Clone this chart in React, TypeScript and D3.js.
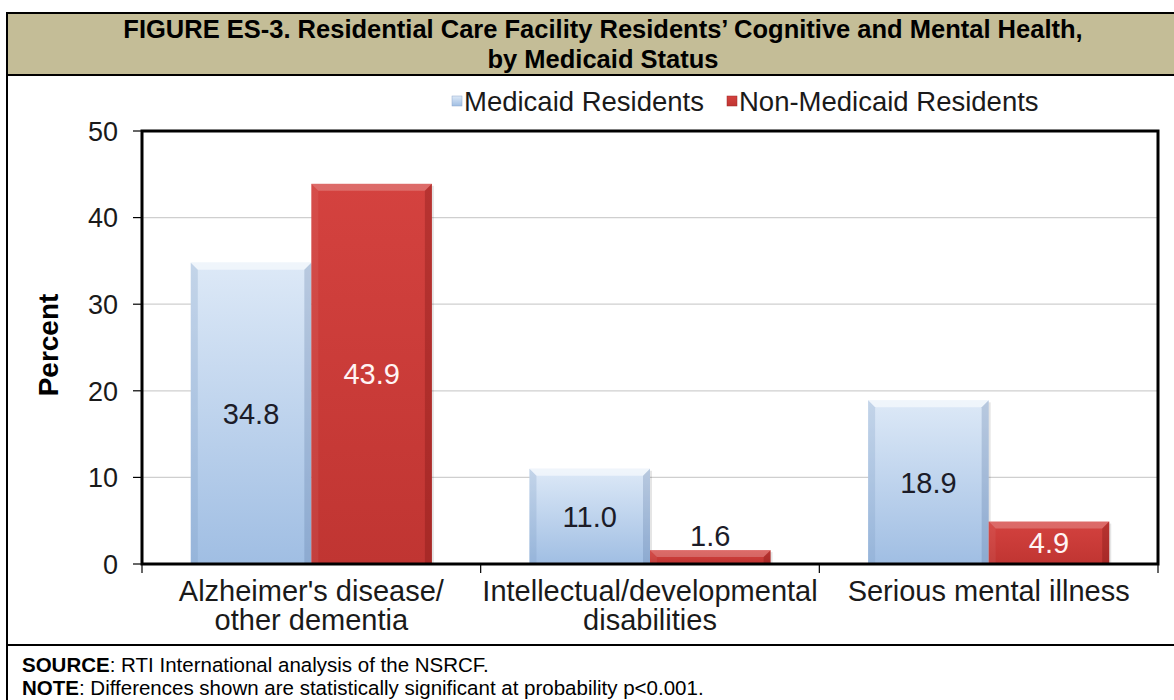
import React from "react";
import * as d3 from "d3";

const categories: string[][] = [
  ["Alzheimer's disease/", "other dementia"],
  ["Intellectual/developmental", "disabilities"],
  ["Serious mental illness"],
];
const seriesNames = ["Medicaid Residents", "Non-Medicaid Residents"];
const medicaid = [34.8, 11.0, 18.9];
const nonMedicaid = [43.9, 1.6, 4.9];
const yTicks = [0, 10, 20, 30, 40, 50];

const W = 1174;
const H = 700;
const FONT = "'Liberation Sans', Arial, sans-serif";

export default function App() {
  const plot = { left: 142, right: 1158, top: 131, bottom: 564 };
  const x0 = d3
    .scaleBand<number>()
    .domain(d3.range(categories.length))
    .range([plot.left, plot.right])
    .paddingInner(0)
    .paddingOuter(0);
  const bw = x0.bandwidth();
  const barW = bw * 0.356;
  const y = d3.scaleLinear().domain([0, 50]).range([plot.bottom, plot.top]);

  const series = [medicaid, nonMedicaid];
  const bevel = 7;

  const bars: React.ReactNode[] = [];
  const labels: React.ReactNode[] = [];
  categories.forEach((_, i) => {
    const cx = x0(i)! + bw / 2;
    series.forEach((vals, s) => {
      const v = vals[i];
      const bx = cx - barW + s * barW;
      const by = y(v);
      const bh = y(0) - by;
      const isBlue = s === 0;
      const b = Math.min(bevel, bh / 2);
      const x1 = bx, x2 = bx + barW, y1 = by, y2 = by + bh;
      bars.push(
        <g key={`b${i}-${s}`}>
          <rect x={x1 + 2} y={y1 + 2} width={barW} height={bh - 2} fill="rgba(0,0,0,0.10)" />
          <rect x={x1} y={y1} width={barW} height={bh} fill={`url(#${isBlue ? "gBlue" : "gRed"})`} />
          <polygon points={`${x1},${y1} ${x2},${y1} ${x2 - b},${y1 + b} ${x1 + b},${y1 + b}`} fill={isBlue ? "rgba(255,255,255,0.55)" : "rgba(255,255,255,0.22)"} />
          <polygon points={`${x1},${y1} ${x1 + b},${y1 + b} ${x1 + b},${y2} ${x1},${y2}`} fill={isBlue ? "rgba(120,150,190,0.25)" : "rgba(255,255,255,0.06)"} />
          <polygon points={`${x2},${y1} ${x2 - b},${y1 + b} ${x2 - b},${y2} ${x2},${y2}`} fill={isBlue ? "rgba(90,120,160,0.28)" : "rgba(80,0,0,0.22)"} />
        </g>
      );
      const above = bh < 30;
      const ly = above ? by - 15 : by + bh / 2;
      labels.push(
        <text
          key={`l${i}-${s}`}
          x={bx + barW / 2}
          y={ly}
          dy="0.36em"
          textAnchor="middle"
          fontFamily={FONT}
          fontSize={29}
          fill={isBlue || above ? "#1c1c28" : "#fff4f4"}
        >
          {v.toFixed(1)}
        </text>
      );
    });
  });

  return (
    <svg width={W} height={H} style={{ position: "absolute", left: 0, top: 0, background: "#fff" }}>
      <defs>
        <linearGradient id="gBlue" x1="0" y1="0" x2="0" y2="1">
          <stop offset="0" stopColor="#dde9f7" />
          <stop offset="1" stopColor="#a0bee3" />
        </linearGradient>
        <linearGradient id="gRed" x1="0" y1="0" x2="0" y2="1">
          <stop offset="0" stopColor="#d4423f" />
          <stop offset="1" stopColor="#c03532" />
        </linearGradient>
      </defs>
      <rect x={0} y={0} width={W} height={H} fill="#fff" />
      {/* Title band */}
      <rect x={7} y={13} width={W - 7} height={62} fill="#c4bd97" />
      <line x1={6} x2={W} y1={13} y2={13} stroke="#000" strokeWidth={2} />
      <line x1={6} x2={W} y1={75} y2={75} stroke="#000" strokeWidth={2} />
      <line x1={7} x2={7} y1={12} y2={H} stroke="#000" strokeWidth={2} />
      <line x1={6} x2={W} y1={645} y2={645} stroke="#000" strokeWidth={2} />
      <text x={603} y={38} textAnchor="middle" fontFamily={FONT} fontWeight="bold" fontSize={25.5} fill="#000">
        FIGURE ES-3. Residential Care Facility Residents’ Cognitive and Mental Health,
      </text>
      <text x={603} y={68} textAnchor="middle" fontFamily={FONT} fontWeight="bold" fontSize={25.5} fill="#000">
        by Medicaid Status
      </text>

      {/* Legend */}
      <rect x={452} y={96} width={10} height={10} fill="url(#gBlue)" stroke="#8fa9cc" strokeWidth={0.5} />
      <text x={464} y={101} dy="0.36em" fontFamily={FONT} fontSize={27.5} fill="#1a1a1a">
        {seriesNames[0]}
      </text>
      <rect x={727} y={96} width={10} height={10} fill="url(#gRed)" stroke="#9a2a28" strokeWidth={0.5} />
      <text x={739} y={101} dy="0.36em" fontFamily={FONT} fontSize={27.5} fill="#1a1a1a">
        {seriesNames[1]}
      </text>

      {/* Gridlines */}
      {yTicks.filter((t) => t > 0 && t < 50).map((t) => (
        <line key={`g${t}`} x1={plot.left} x2={plot.right} y1={y(t)} y2={y(t)} stroke="#cfcfcf" strokeWidth={1.2} />
      ))}

      {bars}

      {/* Plot border */}
      <rect x={plot.left} y={plot.top} width={plot.right - plot.left} height={plot.bottom - plot.top} fill="none" stroke="#000" strokeWidth={3} />

      {/* Y ticks */}
      {yTicks.map((t) => (
        <g key={`t${t}`}>
          <line x1={133} x2={plot.left} y1={y(t)} y2={y(t)} stroke="#000" strokeWidth={1.2} />
          <text x={118} y={y(t)} dy="0.36em" textAnchor="end" fontFamily={FONT} fontSize={27} fill="#1a1a1a">
            {t}
          </text>
        </g>
      ))}
      {/* X ticks */}
      {d3.range(categories.length + 1).map((i) => {
        const xx = i < categories.length ? x0(i)! : plot.right;
        return <line key={`xt${i}`} x1={xx} x2={xx} y1={plot.bottom} y2={plot.bottom + 9} stroke="#000" strokeWidth={1.2} />;
      })}
      {categories.map((lines, i) => (
        <text key={`c${i}`} x={x0(i)! + bw / 2} y={601} textAnchor="middle" fontFamily={FONT} fontSize={29} fill="#1a1a1a">
          {lines.map((ln, k) => (
            <tspan key={k} x={x0(i)! + bw / 2} dy={k === 0 ? 0 : 29}>
              {ln}
            </tspan>
          ))}
        </text>
      ))}

      <text transform={`translate(58,345) rotate(-90)`} textAnchor="middle" fontFamily={FONT} fontWeight="bold" fontSize={28} fill="#000">
        Percent
      </text>

      {labels}

      {/* Source / Note */}
      <text x={22} y={672} fontFamily={FONT} fontSize={20.5} fill="#000">
        <tspan fontWeight="bold">SOURCE</tspan>
        <tspan>:  RTI International analysis of the NSRCF.</tspan>
      </text>
      <text x={22} y={695} fontFamily={FONT} fontSize={20.5} fill="#000">
        <tspan fontWeight="bold">NOTE</tspan>
        <tspan>:  Differences shown are statistically significant at probability p&lt;0.001.</tspan>
      </text>
    </svg>
  );
}
